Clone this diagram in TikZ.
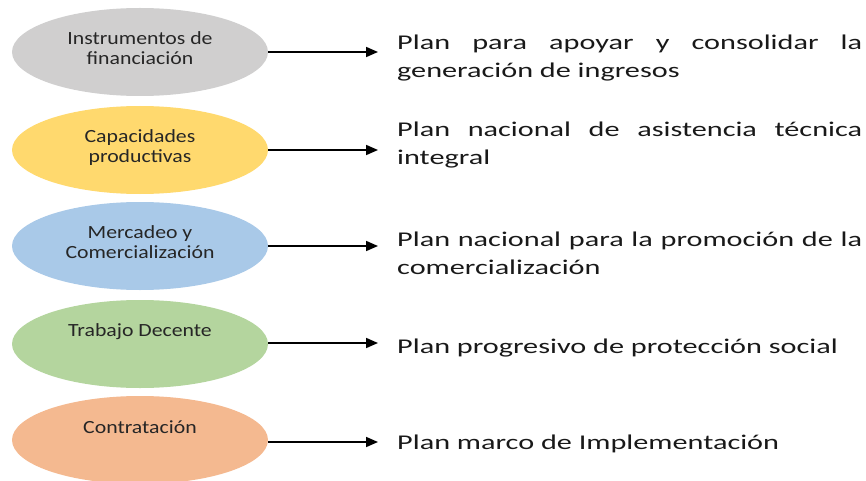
\documentclass[tikz,border=0pt]{standalone}
\usepackage{fontspec}
\usepackage{tikz}
\usetikzlibrary{shapes.geometric}
\usetikzlibrary{arrows.meta}
\newfontfamily\elipfont{Carlito}[FakeStretch=1.17]
\newfontfamily\planfont{Carlito}[FakeStretch=1.44]
\definecolor{gris}{HTML}{D0CFCF}
\definecolor{amarillo}{HTML}{FFD96E}
\definecolor{azul}{HTML}{A9C9E8}
\definecolor{verde}{HTML}{B4D59E}
\definecolor{naranja}{HTML}{F4B990}
\hyphenpenalty=10000

\begin{document}
\begin{tikzpicture}[x=1pt,y=-1pt,
  elipse/.style={ellipse,minimum width=256pt,minimum height=88pt,inner sep=0pt},
  eltexto/.style={anchor=north,inner sep=0pt,align=center,text=black!85,
    font={\elipfont\fontsize{18.6}{20.5}\selectfont}},
  plan/.style={anchor=north west,inner sep=0pt,text width=465pt,align=justify,
    text=black!90,font={\planfont\fontsize{21}{28}\selectfont}},
  flecha/.style={-{Triangle[length=12pt,width=10pt]},line width=1.7pt}]
\useasboundingbox (0,0) rectangle (866,481);
%elipses
\path (140,52) node(e1) [elipse,fill=gris]{};
\path (140,150) node(e2) [elipse,fill=amarillo]{};
\path (140,246) node(e3) [elipse,fill=azul]{};
\path (140,344) node(e4) [elipse,fill=verde]{};
\path (140,440) node(e5) [elipse,fill=naranja]{};
\path ([yshift=21pt]e1.center) node(t1) [eltexto]{Instrumentos de\\financiación};
\path ([yshift=21pt]e2.center) node(t2) [eltexto]{Capacidades\\productivas};
\path ([yshift=21pt]e3.center) node(t3) [eltexto]{Mercadeo y\\Comercialización};
\path ([yshift=21pt]e4.center) node(t4) [eltexto]{Trabajo Decente};
\path ([yshift=19.5pt]e5.center) node(t5) [eltexto]{Contratación};
%planes
\path (397,35) node(p1) [plan]{Plan para apoyar y consolidar la\linebreak generación de ingresos};
\path (397,122) node(p2) [plan]{Plan nacional de asistencia técnica\linebreak integral};
\path (397,232) node(p3) [plan]{Plan nacional para la promoción de la comercialización};
\path (397,339) node(p4) [plan]{Plan progresivo de protección social};
\path (397,435) node(p5) [plan]{Plan marco de Implementación};
%flechas
\coordinate (f1) at (378,52);
\coordinate (f2) at (378,150);
\coordinate (f3) at (378,246);
\coordinate (f4) at (378,343);
\coordinate (f5) at (378,442);
\draw[flecha] (e1.east) -- (f1);
\draw[flecha] (e2.east) -- (f2);
\draw[flecha] (e3.east) -- (f3);
\draw[flecha] (e4.east |- f4) -- (f4);
\draw[flecha] (e5.east |- f5) -- (f5);
\end{tikzpicture}
\end{document}
